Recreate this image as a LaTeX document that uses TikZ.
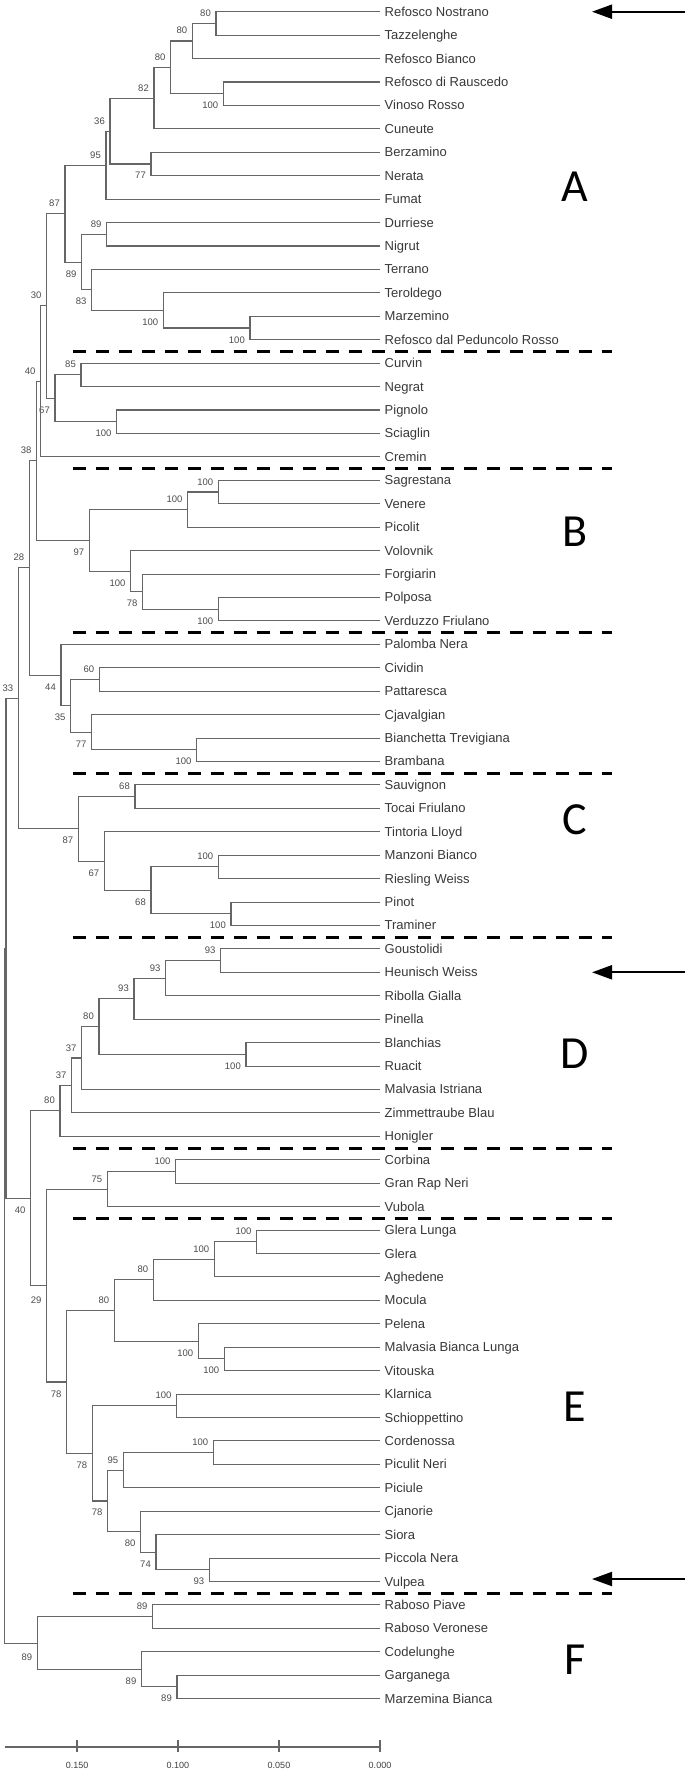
\documentclass[tikz,border=0pt]{standalone}
\usepackage{fontspec}
\setmainfont{Liberation Sans}
\newfontfamily\grpfont{Carlito}
\usetikzlibrary{calc,arrows.meta}
% internal node with bootstrap label: name, x, child1, child2, label, y-offset of label
\newcommand{\jn}[6]{%
  \path let \p1=(#3), \p2=(#4) in coordinate (#1) at (#2pt, {0.5*(\y1+\y2)});
  \draw[br] (#3) -| (#1) |- (#4);
  \node[bs] (#1v) at ($(#1)+(-5,#6)$) {#5};
}
% internal node without label
\newcommand{\jx}[4]{%
  \path let \p1=(#3), \p2=(#4) in coordinate (#1) at (#2pt, {0.5*(\y1+\y2)});
  \draw[br] (#3) -| (#1) |- (#4);
}
\def\U{10.5}
\def\D{-11.5}
\begin{document}
\begin{tikzpicture}[x=1pt,y=1pt,
  br/.style={draw=black!60, line width=1.05pt},
  leaf/.style={anchor=west, inner sep=0pt, text height=9pt, text depth=0pt,
    font=\fontsize{13}{15}\selectfont, text=black!78},
  bs/.style={anchor=east, inner sep=0pt, text height=7pt, text depth=0pt,
    font=\fontsize{9.5}{11}\selectfont, text=black!70},
  dsh/.style={draw=black, line width=3pt, dash pattern=on 13pt off 10pt},
  grp/.style={inner sep=0pt, font=\grpfont\fontsize{46}{50}\selectfont, text=black},
  arw/.style={draw=black, line width=2pt, -{Triangle[length=20pt,width=14pt]}},
  tick/.style={font=\fontsize{9}{11}\selectfont, text=black!75, inner sep=0pt}]
\fill[white] (0,0) rectangle (685,-1774);
\useasboundingbox (0,0) rectangle (685,-1774);
% leaves
\foreach \n [count=\i from 0] in {Refosco Nostrano,Tazzelenghe,Refosco Bianco,Refosco di Rauscedo,Vinoso Rosso,Cuneute,Berzamino,Nerata,Fumat,Durriese,Nigrut,Terrano,Teroldego,Marzemino,Refosco dal Peduncolo Rosso,Curvin,Negrat,Pignolo,Sciaglin,Cremin,Sagrestana,Venere,Picolit,Volovnik,Forgiarin,Polposa,Verduzzo Friulano,Palomba Nera,Cividin,Pattaresca,Cjavalgian,Bianchetta Trevigiana,Brambana,Sauvignon,Tocai Friulano,Tintoria Lloyd,Manzoni Bianco,Riesling Weiss,Pinot,Traminer,Goustolidi,Heunisch Weiss,Ribolla Gialla,Pinella,Blanchias,Ruacit,Malvasia Istriana,Zimmettraube Blau,Honigler,Corbina,Gran Rap Neri,Vubola,Glera Lunga,Glera,Aghedene,Mocula,Pelena,Malvasia Bianca Lunga,Vitouska,Klarnica,Schioppettino,Cordenossa,Piculit Neri,Piciule,Cjanorie,Siora,Piccola Nera,Vulpea,Raboso Piave,Raboso Veronese,Codelunghe,Garganega,Marzemina Bianca}{
  \coordinate (l\i) at (380, {-(11.7+23.43*\i)});
  \node[leaf] (t\i) at ($(l\i)+(4.5,0)$) {\n};
}
% group A
\jn{A1}{216}{l0}{l1}{80}{\U}
\jn{A2}{192.3}{A1}{l2}{80}{\U}
\jn{A3}{223.3}{l3}{l4}{100}{\D}
\jn{A4}{170.7}{A2}{A3}{80}{\U}
\jn{A5}{154}{A4}{l5}{82}{\U}
\jn{B67}{151}{l6}{l7}{77}{\D}
\jn{A6}{110}{A5}{B67}{36}{\U}
\jn{A7}{106}{A6}{l8}{95}{\U}
\jn{A10}{106.7}{l9}{l10}{89}{\U}
\jn{A13}{250}{l13}{l14}{100}{\D}
\jn{A12}{163.3}{l12}{A13}{100}{\D}
\jn{A11}{91.7}{l11}{A12}{83}{\D}
\jn{A9}{81.7}{A10}{A11}{89}{\D}
\jn{A8}{65}{A7}{A9}{87}{\U}
\jn{A16}{81}{l15}{l16}{85}{\U}
\jn{A17}{116.7}{l17}{l18}{100}{\D}
\jn{A15}{55}{A16}{A17}{67}{\D}
\jn{A14}{46.7}{A8}{A15}{30}{\U}
\jn{A18}{40.7}{A14}{l19}{40}{\U}
% group B
\jn{B1}{218.3}{l20}{l21}{100}{\U}
\jn{B2}{187.7}{B1}{l22}{100}{\U}
\jn{B6}{218.3}{l25}{l26}{100}{\D}
\jn{B5}{142.7}{l24}{B6}{78}{\D}
\jn{B4}{130.7}{l23}{B5}{100}{\D}
\jn{B3}{89.3}{B2}{B4}{97}{\D}
\jn{A19}{36.7}{A18}{B3}{38}{\U}
% Palomba group
\jn{A23}{99.3}{l28}{l29}{60}{\U}
\jn{A25}{196.7}{l31}{l32}{100}{\D}
\jn{A24}{91.7}{l30}{A25}{77}{\D}
\jn{A22}{70.7}{A23}{A24}{35}{\D}
\jn{A21}{61}{l27}{A22}{44}{\D}
\jn{A20}{29.3}{A19}{A21}{28}{\U}
% group C
\jn{C1}{135}{l33}{l34}{68}{\U}
\jn{C5}{218.3}{l36}{l37}{100}{\U}
\jn{C6}{231}{l38}{l39}{100}{\D}
\jn{C4}{151}{C5}{C6}{68}{\D}
\jn{C3}{104.3}{l35}{C4}{67}{\D}
\jn{C2}{78.3}{C1}{C3}{87}{\D}
\jn{A26}{18.3}{A20}{C2}{33}{\U}
% group D
\jn{D1}{220.7}{l40}{l41}{93}{\U}
\jn{D2}{165.7}{D1}{l42}{93}{\U}
\jn{D3}{134}{D2}{l43}{93}{\U}
\jn{D5}{246}{l44}{l45}{100}{\D}
\jn{D4}{99}{D3}{D5}{80}{\U}
\jn{D6}{81.7}{D4}{l46}{37}{\U}
\jn{D7}{71.7}{D6}{l47}{37}{\U}
\jn{D8}{60}{D7}{l48}{80}{\U}
% Corbina group
\jn{G1}{175.7}{l49}{l50}{100}{\U}
\jn{G2}{107.3}{G1}{l51}{75}{\U}
% group E
\jn{E1}{256.7}{l52}{l53}{100}{\U}
\jn{E2}{214.3}{E1}{l54}{100}{\U}
\jn{E3}{153.3}{E2}{l55}{80}{\U}
\jn{E6}{224.3}{l57}{l58}{100}{\D}
\jn{E5}{198.3}{l56}{E6}{100}{\D}
\jn{E4}{114.3}{E3}{E5}{80}{\U}
\jn{E8}{176.7}{l59}{l60}{100}{\U}
\jn{E10}{213.3}{l61}{l62}{100}{\U}
\jn{E11}{123.3}{E10}{l63}{95}{\U}
\jn{E14}{209.3}{l66}{l67}{93}{\D}
\jn{E13}{156}{l65}{E14}{74}{\D}
\jn{E12}{140.7}{l64}{E13}{80}{\D}
\jn{E9}{107.7}{E11}{E12}{78}{\D}
\jn{E7}{92.3}{E8}{E9}{78}{\D}
\jn{E0}{66.7}{E4}{E7}{78}{\D}
\jn{R5}{46.7}{G2}{E0}{29}{-14}
\jn{R2}{30.7}{D8}{R5}{40}{\D}
\jx{R0}{6}{A26}{R2}
% group F
\jn{F2}{152.7}{l68}{l69}{89}{\U}
\jn{F4}{177}{l71}{l72}{89}{\D}
\jn{F3}{141.5}{l70}{F4}{89}{\D}
\jn{F1}{37.3}{F2}{F3}{89}{-14}
\jx{ROOT}{4.3}{R0}{F1}
% dashed separators
\foreach \k in {14,19,26,32,39,48,51,67}{
  \draw[dsh] (72.7, {-(11.7+23.43*(\k+0.5))}) -- (612, {-(11.7+23.43*(\k+0.5))});
}
% group letters
\node[grp] (gA) at (575,-187) {A};
\node[grp] (gB) at (575,-532) {B};
\node[grp] (gC) at (575,-820) {C};
\node[grp] (gD) at (575,-1054) {D};
\node[grp] (gE) at (575,-1407) {E};
\node[grp] (gF) at (575,-1660) {F};
% arrows
\coordinate (a0s) at (685,-11.7);   \coordinate (a0e) at (592,-11.7);
\coordinate (a1s) at (685,-972.3);  \coordinate (a1e) at (592,-972.3);
\coordinate (a2s) at (685,-1579);   \coordinate (a2e) at (592,-1579);
\draw[arw] (a0s) -- (a0e);
\draw[arw] (a1s) -- (a1e);
\draw[arw] (a2s) -- (a2e);
% scale axis
\coordinate (ax0) at (4.6,-1747);
\coordinate (ax1) at (380,-1747);
\draw[br] (ax0) -- (ax1);
\foreach \v/\t [count=\j] in {0.15/0.150,0.10/0.100,0.05/0.050,0/0.000}{
  \coordinate (tk\j) at ({380-2020*\v},-1747);
  \draw[br] ($(tk\j)+(0,7)$) -- ($(tk\j)+(0,-5)$);
  \node[tick] (tl\j) at ($(tk\j)+(0,-18)$) {\t};
}
\end{tikzpicture}
\end{document}
